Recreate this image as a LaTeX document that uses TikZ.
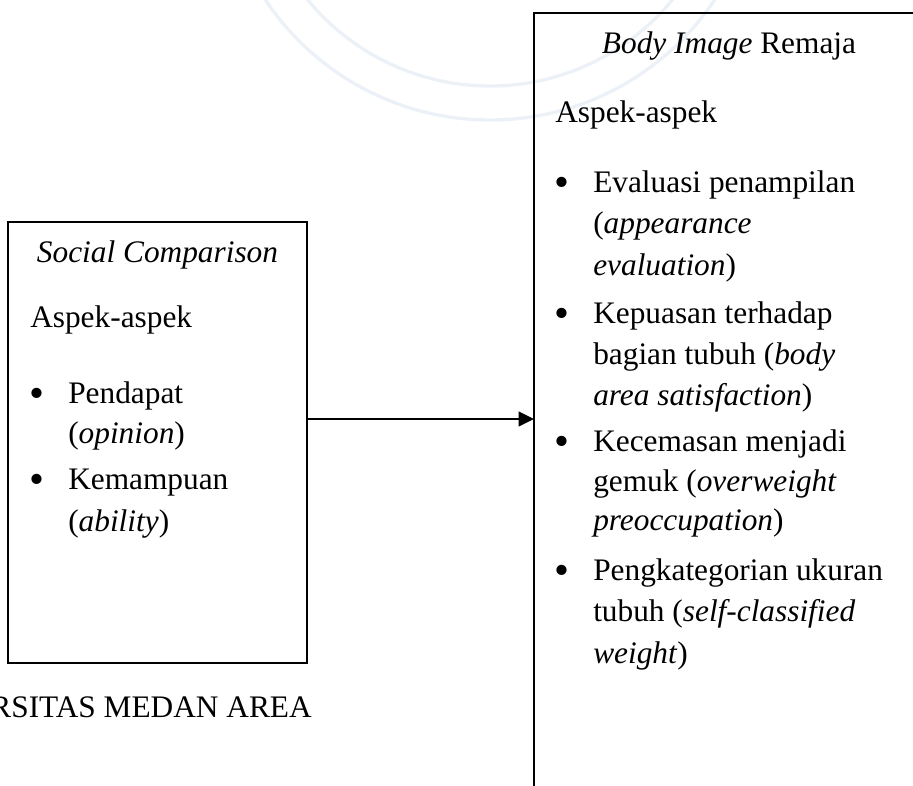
\documentclass[tikz,border=0pt]{standalone}
\usepackage{fontspec}
\setmainfont{Liberation Serif}
\usetikzlibrary{arrows.meta}
\definecolor{wmcol}{RGB}{236,241,247}
\tikzset{
  txt/.style={anchor=base west, inner sep=0pt, font=\fontsize{23.5}{31}\selectfont},
  ctxt/.style={anchor=base, inner sep=0pt, font=\fontsize{23.5}{31}\selectfont},
  bul/.style={anchor=base, inner sep=0pt, font=\fontsize{23.5}{31}\selectfont},
  boxframe/.style={draw=black, line width=1.3pt, anchor=north west, inner sep=0pt, outer sep=0pt},
  conn/.style={draw=black, line width=1.3pt, -{Triangle[length=11.5pt, width=11pt]}},
  wm/.style={draw=wmcol, line width=2.5pt}
}
\newcommand{\bigbul}{\raisebox{-3.3pt}{\fontsize{32}{34}\selectfont\textbullet}}
\begin{document}
\begin{tikzpicture}[x=0.75pt, y=-0.75pt]
\useasboundingbox (0,0) rectangle (913,785);
% faint watermark
\begin{scope}
\clip (0,0) rectangle (913,785);
\draw[wm] (490,-150) circle (270);
\draw[wm] (490,-150) circle (236);
\end{scope}
% boxes
\node[boxframe, minimum width=299*0.75pt, minimum height=441*0.75pt] (left) at (8,222) {};
\node[boxframe, minimum width=391*0.75pt, minimum height=800*0.75pt] (right) at (534,13) {};
% connector
\coordinate (arrs) at (307,419);
\coordinate (arre) at (534,419);
\draw[conn] (arrs) -- (arre);
% left box text
\node[ctxt] (lt) at (157.5,262) {\textit{Social Comparison}};
\node[txt] (la) at (30,327) {Aspek-aspek};
\node[bul] (lb1) at (37,403) {\bigbul};
\node[txt] (l1a) at (68,403) {Pendapat};
\node[txt] (l1b) at (68,443) {(\textit{opinion})};
\node[bul] (lb2) at (37,489) {\bigbul};
\node[txt] (l2a) at (68,489) {Kemampuan};
\node[txt] (l2b) at (68,531) {(\textit{ability})};
% footer text
\node[anchor=base east, inner sep=0pt, font=\fontsize{23.5}{31}\selectfont] (foot) at (312,717) {RSITAS MEDAN AREA};
% right box text
\node[ctxt] (rt) at (729,53) {\textit{Body Image} Remaja};
\node[txt] (ra) at (555,122) {Aspek-aspek};
\node[bul] (rb1) at (562,192) {\bigbul};
\node[txt] (r1a) at (593,192) {Evaluasi penampilan};
\node[txt] (r1b) at (593,233) {(\textit{appearance}};
\node[txt] (r1c) at (593,275) {\textit{evaluation})};
\node[bul] (rb2) at (562,323) {\bigbul};
\node[txt] (r2a) at (593,323) {Kepuasan terhadap};
\node[txt] (r2b) at (593,364) {bagian tubuh (\textit{body}};
\node[txt] (r2c) at (593,405) {\textit{area satisfaction})};
\node[bul] (rb3) at (562,451) {\bigbul};
\node[txt] (r3a) at (593,451) {Kecemasan menjadi};
\node[txt] (r3b) at (593,491) {gemuk (\textit{overweight}};
\node[txt] (r3c) at (593,530) {\textit{preoccupation})};
\node[bul] (rb4) at (562,580) {\bigbul};
\node[txt] (r4a) at (593,580) {Pengkategorian ukuran};
\node[txt] (r4b) at (593,621) {tubuh (\textit{self-classified}};
\node[txt] (r4c) at (593,663) {\textit{weight})};
\end{tikzpicture}
\end{document}
